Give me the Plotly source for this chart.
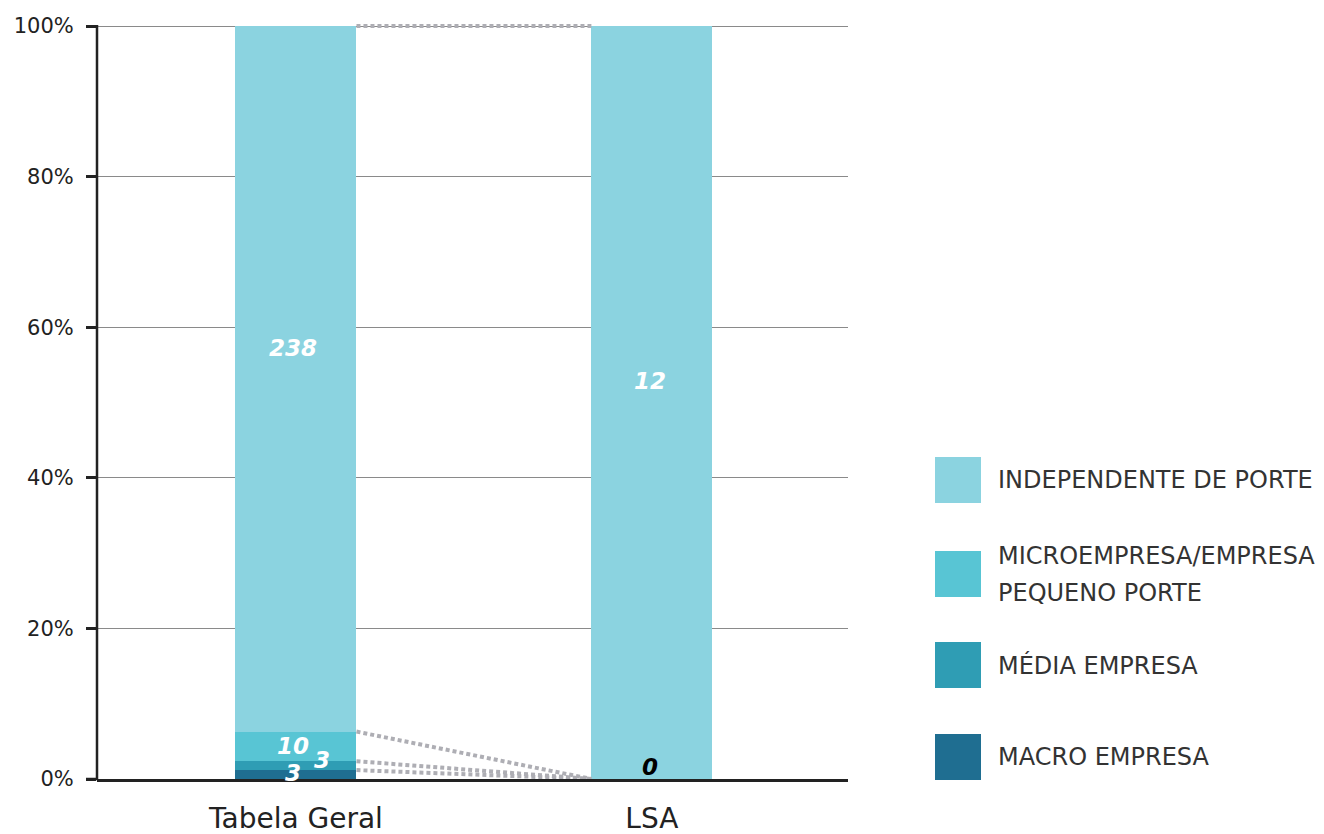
import plotly.graph_objects as go

# Data
categories = ["Tabela Geral", "LSA"]
series_names = ["MACRO EMPRESA", "MÉDIA EMPRESA", "MICROEMPRESA/EMPRESA<br>PEQUENO PORTE", "INDEPENDENTE DE PORTE"]
macro = [3, 0]
media = [3, 0]
micro = [10, 0]
independente = [238, 12]
colors = ["#1F6E91", "#2F9DB4", "#58C5D4", "#8BD3E0"]
y_ticks = [0, 20, 40, 60, 80, 100]
y_tick_labels = ["0%", "20%", "40%", "60%", "80%", "100%"]

series = [macro, media, micro, independente]
totals = [sum(s[i] for s in series) for i in range(len(categories))]
pct = [[(s[i] / totals[i] * 100 if totals[i] else 0) for i in range(len(categories))] for s in series]

W, H = 1324, 834
L, R, B = 97, 848, 779
T100 = 26          # pixel row of the 100% line
T = 23             # top margin leaves a little headroom so the top connector isn't clipped
FONT = "DejaVu Sans"
BAR_W = 0.34
Y_MAX = 100 * (B - T) / (B - T100)

fig = go.Figure()
xs = list(range(len(categories)))
for name, vals, col in zip(series_names, pct, colors):
    fig.add_trace(go.Bar(x=xs, y=vals, name=name, marker=dict(color=col, line=dict(width=0)),
                         width=BAR_W, showlegend=False, hoverinfo="skip"))

# dotted connectors between cumulative segment tops
cum = [[sum(pct[k][i] for k in range(j + 1)) for i in range(len(categories))] for j in range(len(series))]
for j in range(len(series)):
    fig.add_trace(go.Scatter(x=[0 + BAR_W / 2, 1 - BAR_W / 2], y=[cum[j][0], cum[j][1]], mode="lines",
                             line=dict(color="#AEAEB4", width=4, dash="4px,3px"), showlegend=False,
                             hoverinfo="skip", cliponaxis=False))

# value labels
label_font = dict(family=FONT, size=23, color="white", weight="bold", style="italic")
label_offsets = {  # (series idx, category idx): (xshift, yshift)
    (3, 0): (-3, 31), (2, 0): (-3, 0), (1, 0): (26, 6), (0, 0): (-3, 2),
    (3, 1): (-2, 22),
}
for j, vals in enumerate(series):
    for i, v in enumerate(vals):
        if v == 0:
            continue
        lo = cum[j][i] - pct[j][i]
        mid = (lo + cum[j][i]) / 2
        xs_, ys_ = label_offsets.get((j, i), (0, 0))
        fig.add_annotation(x=i, y=mid, text=str(v), showarrow=False, font=label_font,
                           xshift=xs_, yshift=ys_)
# zero count for LSA small-company categories
fig.add_annotation(x=1, y=0, text=str(micro[1]), showarrow=False,
                   font=dict(family=FONT, size=23, color="black", weight="bold", style="italic"),
                   xshift=-2, yshift=12)

# pixel -> paper helpers for the legend block
def px_x(p):
    return (p - L) / (R - L)

def px_y(p):
    return (B - p) / (B - T)

# y-axis line stops at the 100% mark
fig.add_shape(type="line", xref="paper", yref="paper", x0=0, x1=0, y0=0, y1=px_y(T100 - 1),
              line=dict(color="#222222", width=2.5))
# baseline continues under the y-axis tick marks
fig.add_shape(type="line", xref="paper", yref="paper", x0=px_x(86), x1=0, y0=0, y1=0,
              line=dict(color="#222222", width=2.5))

LINE_GAP = 37
legend_rows = [(3, 480), (2, 574), (1, 665), (0, 757)]
for idx, cy in legend_rows:
    fig.add_shape(type="rect", xref="paper", yref="paper",
                  x0=px_x(935), x1=px_x(981), y0=px_y(cy + 23), y1=px_y(cy - 23),
                  fillcolor=colors[idx], line=dict(width=0))
    lines = series_names[idx].split("<br>")
    first = cy - LINE_GAP * (len(lines) - 1) / 2
    for k, line in enumerate(lines):
        fig.add_annotation(xref="paper", yref="paper", x=px_x(996), y=px_y(first + k * LINE_GAP),
                           xanchor="left", yanchor="middle", text=line, showarrow=False,
                           font=dict(family=FONT, size=24, color="#333333"))

fig.update_layout(
    width=W, height=H, margin=dict(l=L, r=W - R, t=T, b=H - B),
    barmode="stack", bargap=0, plot_bgcolor="white", paper_bgcolor="white",
    font=dict(family=FONT, color="#222222"),
    xaxis=dict(range=[-0.559, 1.551], tickvals=xs, ticktext=categories, showgrid=False,
               showline=True, linecolor="#222222", linewidth=2.5, ticks="outside", ticklen=13,
               tickcolor="rgba(0,0,0,0)", tickfont=dict(family=FONT, size=28, color="#222222"),
               zeroline=False, fixedrange=True, automargin=False),
    yaxis=dict(range=[0, Y_MAX], tickvals=y_ticks, ticktext=y_tick_labels, showgrid=True,
               gridcolor="#8A8A8A", gridwidth=1, showline=False,
               ticks="outside", ticklen=10, tickwidth=2.5, tickcolor="#222222",
               ticklabelstandoff=8, automargin=False,
               tickfont=dict(family=FONT, size=21, color="#222222"), zeroline=False, fixedrange=True),
)

fig.write_html("out.html")
